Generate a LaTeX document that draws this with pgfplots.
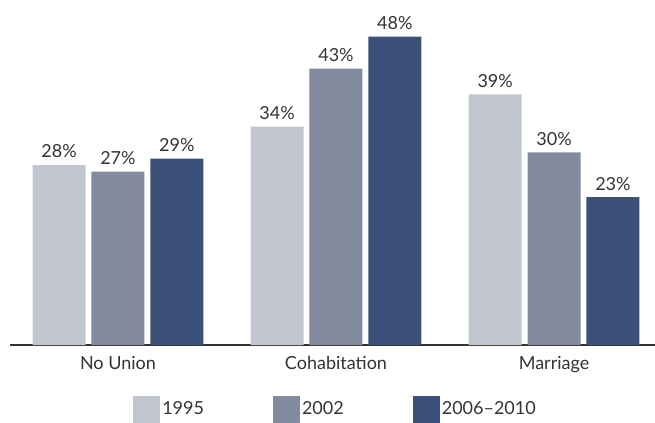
\documentclass[border=0pt]{standalone}
\usepackage{pgfplots}
\pgfplotsset{compat=1.18}
\usepackage{fontspec}
\setmainfont{Lato}
\definecolor{cA}{HTML}{C2C6CF}
\definecolor{cB}{HTML}{838B9F}
\definecolor{cC}{HTML}{3C5179}
\definecolor{txt}{HTML}{333333}
\begin{document}
\begin{tikzpicture}
\begin{axis}[
  name=ax,
  scale only axis,
  width=645pt, height=345pt,
  xmin=-0.495, xmax=2.463,
  ymin=0, ymax=53.7,
  axis y line=none,
  axis x line*=bottom,
  x axis line style={draw=txt, line width=1.8pt, -},
  xtick={0,1,2},
  xticklabels={No Union,Cohabitation,Marriage},
  major tick length=0pt,
  ytick=\empty,
  /pgf/number format/assume math mode=true,
  tick label style={font=\fontsize{18}{21}\selectfont, text=txt},
  xticklabel style={yshift=-8pt},
  ybar=0pt,
  bar width=0.243,
  bar shift auto,
  enlargelimits=false,
  nodes near coords={\pgfmathprintnumber[assume math mode=true]{\pgfplotspointmeta}\%},
  every node near coord/.append style={font=\fontsize{18}{21}\selectfont, text=txt, yshift=3.5pt},
  clip=false,
  legend columns=3,
  legend style={draw=none, fill=none, at={(0.5047,0)}, anchor=center, yshift=-64pt,
    font=\fontsize{18}{21}\selectfont, text=txt,
    /tikz/every even column/.append style={column sep=67pt},
    /tikz/every odd column/.append style={column sep=0pt}},
  legend image code/.code={\fill[#1] (0pt,-13.5pt) rectangle (27pt,13.5pt);},
]
\addplot[fill=cA, draw=none, /pgf/bar shift=-0.27] coordinates {(0,28) (1,34) (2,39)};
\addplot[fill=cB, draw=none, /pgf/bar shift=0] coordinates {(0,27) (1,43) (2,30)};
\addplot[fill=cC, draw=none, /pgf/bar shift=0.27] coordinates {(0,29) (1,48) (2,23)};
\legend{1995,2002,2006--2010}
\end{axis}
\pgfresetboundingbox
\path ([xshift=-10pt,yshift=-77pt]ax.south west) rectangle (ax.north east);
\end{tikzpicture}
\end{document}
